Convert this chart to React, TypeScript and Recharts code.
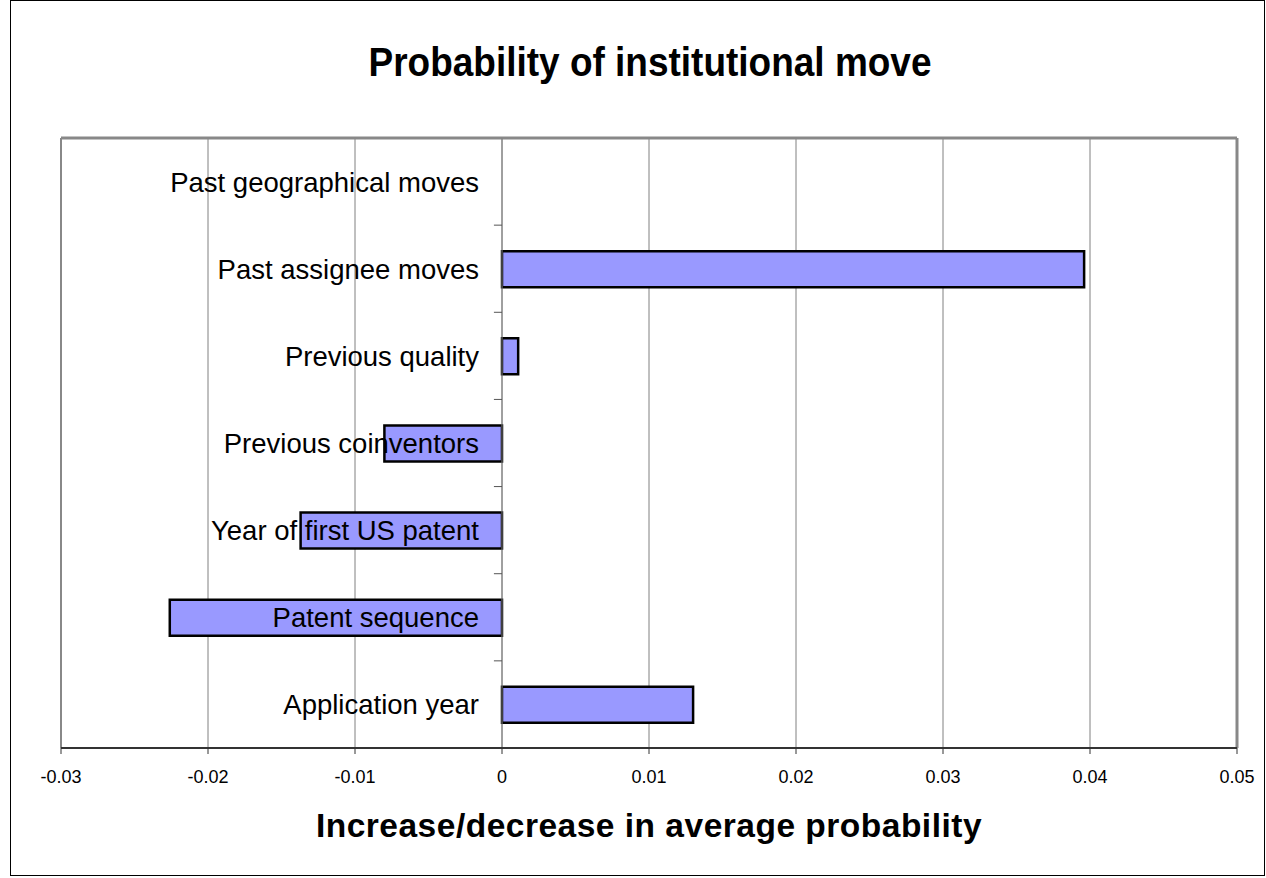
// Probability of institutional move - horizontal bar chart
import { BarChart, Bar, XAxis, YAxis, CartesianGrid, ReferenceLine, LabelList, Cell } from "recharts";

const CATEGORIES = [
  "Past geographical moves",
  "Past assignee moves",
  "Previous quality",
  "Previous coinventors",
  "Year of first US patent",
  "Patent sequence",
  "Application year",
];
const EFFECTS = [0, 0.0396, 0.0011, -0.008, -0.0137, -0.0226, 0.013];
const X_TICKS = [-0.03, -0.02, -0.01, 0, 0.01, 0.02, 0.03, 0.04, 0.05];

const FONT = "'Liberation Sans', Arial, sans-serif";

const data = CATEGORIES.map((name, i) => ({ name, value: EFFECTS[i] }));

const CategoryLabel = (props: any) => {
  const { x, y, width, height, value } = props;
  const v = EFFECTS[CATEGORIES.indexOf(value)];
  let zero = x;
  if (v < 0 && width > 0) zero = x + width;
  return (
    <text
      x={zero - 23}
      y={y + height / 2}
      textAnchor="end"
      dominantBaseline="central"
      fontFamily={FONT}
      fontSize={27.5}
      fill="#000"
    >
      {value}
    </text>
  );
};

export default function App() {
  return (
    <div style={{ position: "absolute", left: 0, top: 0, width: 1266, height: 878, background: "#fff" }}>
      <div
        style={{
          position: "absolute",
          left: 10,
          top: 0,
          width: 1255,
          height: 876,
          border: "1px solid #000",
          boxSizing: "border-box",
        }}
      />
      <svg width={1266} height={878} style={{ position: "absolute", left: 0, top: 0 }}>
        <text
          transform="translate(650,76) scale(1,1.1)"
          textAnchor="middle"
          fontFamily={FONT}
          fontWeight="bold"
          fontSize={37}
          fill="#000"
        >
          Probability of institutional move
        </text>
      </svg>
      <div style={{ position: "absolute", left: 0, top: 0 }}>
        <BarChart
          width={1266}
          height={878}
          data={data}
          layout="vertical"
          margin={{ top: 138, right: 29, bottom: 30, left: 61 }}
        >
          <CartesianGrid horizontal={false} stroke="#808080" strokeWidth={1} />
          <XAxis
            type="number"
            domain={[-0.03, 0.05]}
            ticks={X_TICKS}
            interval={0}
            height={100}
            tickFormatter={(v: number) => String(Number(v.toFixed(2)))}
            tick={{ fontFamily: FONT, fontSize: 18, fill: "#000" }}
            tickSize={6}
            tickMargin={16}
            axisLine={{ stroke: "#333", strokeWidth: 2 }}
            tickLine={{ stroke: "#333" }}
            label={{
              value: "Increase/decrease in average probability",
              position: "insideBottom",
              offset: 11,
              style: { fontFamily: FONT, fontWeight: "bold", fontSize: 33.5, letterSpacing: 0.5, fill: "#000" },
            }}
          />
          <YAxis type="category" dataKey="name" hide />
          <ReferenceLine y={CATEGORIES[0]} position="start" stroke="#888" strokeWidth={3} />
          <ReferenceLine x={-0.03} stroke="#888" strokeWidth={2} />
          <ReferenceLine x={0.05} stroke="#888" strokeWidth={3} />
          <ReferenceLine x={0} stroke="#808080" strokeWidth={1} />
          {CATEGORIES.slice(1).map((c) => (
            <ReferenceLine
              key={c}
              position="start"
              segment={[
                { x: -0.00055, y: c },
                { x: 0, y: c },
              ]}
              stroke="#555"
            />
          ))}
          <Bar
            dataKey="value"
            fill="#9999FF"
            stroke="#000"
            strokeWidth={2.5}
            barSize={36}
            minPointSize={1}
            isAnimationActive={false}
          >
            {data.map((d, i) => (
              <Cell key={i} fill={d.value === 0 ? "none" : "#9999FF"} stroke={d.value === 0 ? "none" : "#000"} />
            ))}
            <LabelList dataKey="name" content={<CategoryLabel />} />
          </Bar>
        </BarChart>
      </div>
    </div>
  );
}
